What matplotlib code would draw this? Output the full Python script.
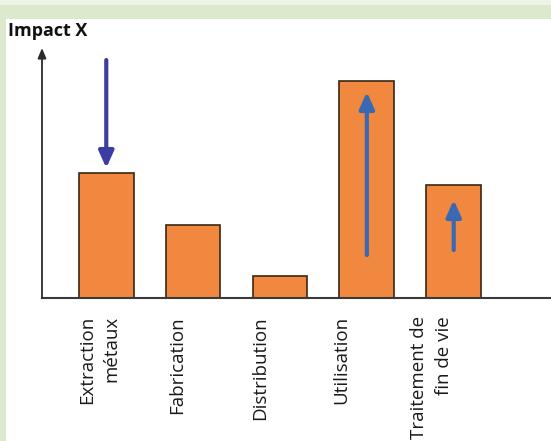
import matplotlib
matplotlib.use("Agg")
import matplotlib.pyplot as plt
from matplotlib.transforms import ScaledTranslation
from matplotlib.patches import Rectangle

plt.rcParams['font.family'] = ['Open Sans', 'DejaVu Sans']

# Data
categories = ["Extraction\nmétaux", "Fabrication", "Distribution", "Utilisation", "Traitement de\nfin de vie"]
values = [125, 73, 22, 217, 113]
# arrows: (category index, start value, end value, colour)
arrow_idx = [0, 3, 4]
arrow_start = [238, 43, 48]
arrow_end = [130, 206, 98]
arrow_colors = ["#3c3da0", "#3b68b4", "#3b68b4"]

# horizontal shift of each tick label (pixels, layout only)
label_shift_px = [-7, -16, -20, -26, -22]

W, H = 551, 441
fig = plt.figure(figsize=(W / 100, H / 100), dpi=100)
fig.patch.set_facecolor("white")

# background decorations (green frame)
fig.add_artist(Rectangle((0, 1 - 5 / H), 1, 5 / H, transform=fig.transFigure,
                         facecolor="#eef3e6", edgecolor="none", zorder=0))
fig.add_artist(Rectangle((0, 1 - 19 / H), 1, 14 / H, transform=fig.transFigure,
                         facecolor="#dce9cc", edgecolor="none", zorder=0))
fig.add_artist(Rectangle((0, 0), 6 / W, 1 - 19 / H, transform=fig.transFigure,
                         facecolor="#dce9cc", edgecolor="none", zorder=0))

left, right = 42 / W, 1.0
bottom, top = (H - 298) / H, (H - 48) / H
ax = fig.add_axes([left, bottom, right - left, top - bottom])
ax.set_facecolor("none")

x = list(range(len(categories)))
ax.bar(x, values, width=0.63, color="#f0883f", edgecolor="#3a2614", linewidth=1.2, zorder=2)

ax.set_xlim(-0.74, 5.12)
ax.set_ylim(0, 250)

for i, s, e, c in zip(arrow_idx, arrow_start, arrow_end, arrow_colors):
    ax.annotate("", xy=(i, e), xytext=(i, s),
                arrowprops=dict(arrowstyle="-|>,head_length=1.0,head_width=0.45",
                                color=c, lw=3.0, shrinkA=0, shrinkB=0),
                zorder=3)

for sp in ["top", "right", "left"]:
    ax.spines[sp].set_visible(False)
ax.spines["bottom"].set_color("#3a3a3a")
ax.spines["bottom"].set_linewidth(1.5)

# y axis with arrowhead
ax.annotate("", xy=(0, 1.0), xytext=(0, 0), xycoords="axes fraction",
            arrowprops=dict(arrowstyle="-|>,head_length=0.6,head_width=0.25",
                            color="#2a2a2a", lw=1.3, shrinkA=0, shrinkB=0))

ax.set_yticks([])
ax.set_xticks(x)
ax.set_xticklabels(categories, rotation=90, ha="center", va="top",
                   multialignment="right", fontsize=13.5, color="#1a1a1a",
                   linespacing=1.5)
ax.tick_params(axis="x", length=0, pad=13)
for lab, dx in zip(ax.get_xticklabels(), label_shift_px):
    lab.set_transform(lab.get_transform() + ScaledTranslation(dx / 100, 0, fig.dpi_scale_trans))

fig.text(8 / W, 1 - 31 / H, "Impact X", fontsize=13, fontweight="bold",
         ha="left", va="center", color="#111111")

fig.savefig("out.png", dpi=100)
